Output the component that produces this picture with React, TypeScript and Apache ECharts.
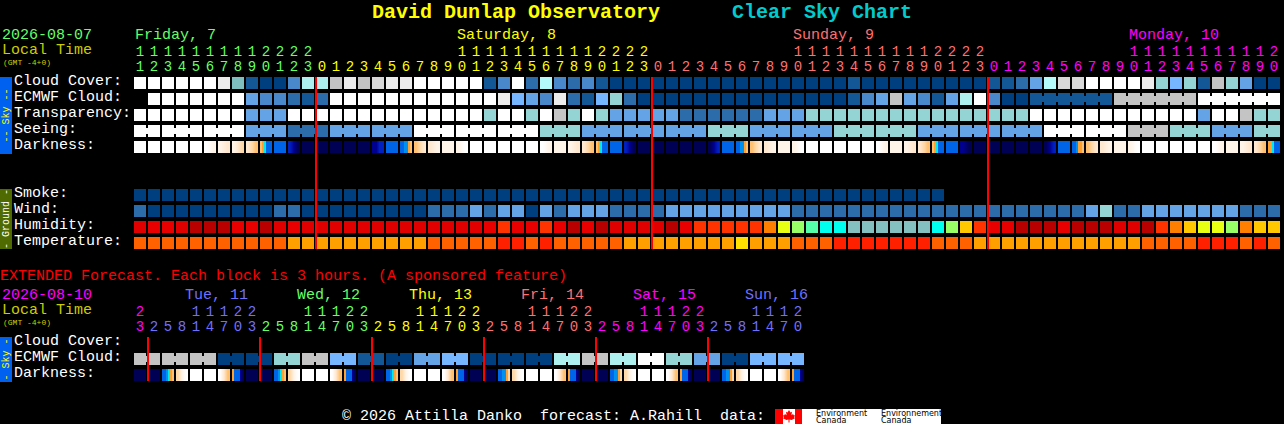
import React, { useEffect, useRef } from "react";
import * as echarts from "echarts";

const MONO = '"Liberation Mono"';

const cloudPalette = ["#003f7f", "#135796", "#2c6cab", "#4a88cc", "#63a3e6", "#76b5ff", "#94d4d4", "#aef0f0", "#c4c4c4", "#d8d8d8", "#ececec", "#ffffff", "#80bfbf", "#b4fafa"];
const humidityPalette = ["#b80000", "#e00000", "#e80000", "#ff3300", "#ff8000", "#ffc800", "#e8ff14", "#99ff66", "#55ffaa", "#00ffee", "#85c0c0"];
const temperaturePalette = ["#ff2000", "#ff6000", "#ffa000", "#ffe000"];
const darknessPalette = ["#000055", "#000090", "#0020c0", "#0064e8", "#0090f0", "#00e8f0", "#ffa030", "#ffc070", "#ffd8a8", "#ffe8d0", "#fff4e8", "#ffffff"];

const hours = [11, 12, 13, 14, 15, 16, 17, 18, 19, 20, 21, 22, 23,
  0, 1, 2, 3, 4, 5, 6, 7, 8, 9, 10, 11, 12, 13, 14, 15, 16, 17, 18, 19, 20, 21, 22, 23,
  0, 1, 2, 3, 4, 5, 6, 7, 8, 9, 10, 11, 12, 13, 14, 15, 16, 17, 18, 19, 20, 21, 22, 23,
  0, 1, 2, 3, 4, 5, 6, 7, 8, 9, 10, 11, 12, 13, 14, 15, 16, 17, 18, 19, 20];
const extHours = [23, 2, 5, 8, 11, 14, 17, 20, 23, 2, 5, 8, 11, 14, 17, 20, 23, 2, 5, 8, 11, 14, 17, 20, 23,
  2, 5, 8, 11, 14, 17, 20, 23, 2, 5, 8, 11, 14, 17, 20, 23, 2, 5, 8, 11, 14, 17, 20];

const dayColors = ["#66ff66", "#ffff00", "#ff7070", "#ff00ff"];
const extDayColors = ["#ff00ff", "#7070ff", "#66ff66", "#ffff00", "#ff7070", "#ff00ff", "#7070ff"];
const midnightCols = [13, 37, 61];
const extMidnightCols = [1, 9, 17, 25, 33, 41];

const rowLabels = ["Cloud Cover:", "ECMWF Cloud:", "Transparency:", "Seeing:", "Darkness:", "", "", "Smoke:", "Wind:", "Humidity:", "Temperature:"];
const extRowLabels = ["Cloud Cover:", "ECMWF Cloud:", "Darkness:"];

const cloudCover = [
  11, 11, 11, 11, 11, 11, 10, 12, 1, 0,
  0, 3, 7, 7, 8, 10, 8, 9, 10, 10,
  11, 11, 11, 11, 11, 1, 3, 11, 2, 13,
  3, 2, 3, 1, 0, 0, 0, 0, 0, 0,
  0, 0, 0, 0, 0, 0, 0, 0, 0, 0,
  0, 1, 0, 0, 0, 0, 0, 0, 0, 0,
  0, 1, 1, 2, 4, 13, 9, 9, 11, 11,
  11, 11, 10, 6, 5, 6, 1, 8, 6, 4,
  0, 0];
const ecmwfCloud = [
  null, 11, 11, 11, 11, 11, 11, 11, 4, 3,
  3, 2, 1, 2, 11, 11, 11, 11, 11, 11,
  11, 11, 11, 11, 11, 11, 10, 5, 4, 3,
  10, 2, 1, 5, 6, 2, 0, 0, 0, 0,
  0, 0, 0, 0, 0, 0, 0, 0, 0, 0,
  0, 1, 3, 4, 8, 4, 3, 1, 4, 7,
  11, 3, 0, 0, 1, 1, 1, 1, 1, 1,
  8, 8, 8, 8, 8, 8, 11, 11, 11, 11,
  11, 11];
const transparency = [
  11, 11, 11, 11, 11, 11, 11, 11, 4, 4,
  4, 11, 11, 11, 11, 11, 11, 11, 11, 11,
  11, 11, 11, 11, 11, 6, 11, 11, 6, 11,
  8, 6, 11, 6, 4, 4, 4, 4, 4, 2,
  2, 2, 2, 2, 2, 4, 4, 4, 6, 6,
  6, 6, 6, 6, 6, 6, 6, 6, 6, 6,
  6, 6, 6, 6, 11, 11, 11, 11, 11, 11,
  11, 11, 11, 11, 11, 11, 4, 11, 11, 8,
  6, 6];
const seeing = [
  11, 11, 11, 11, 11, 11, 11, 11, 4, 4,
  4, 2, 2, 2, 4, 4, 4, 4, 4, 4,
  11, 11, 11, 11, 11, 11, 11, 11, 11, 6,
  6, 6, 4, 4, 4, 4, 4, 4, 4, 4,
  4, 6, 6, 6, 4, 4, 4, 4, 4, 4,
  6, 6, 6, 6, 6, 6, 4, 4, 4, 4,
  4, 4, 4, 4, 4, 11, 11, 11, 11, 11,
  11, 8, 8, 8, 6, 6, 6, 4, 4, 4,
  6, 6];
const W = [11];
const N = [0];
const B = [3];
const darkness = [
  W, W, W, W, W, [11, 10], [10, 9], [10, 9, 8], [9, 8, 7], [7, 6, 5, 3, 3, 3],
  B, [2, 1, 0], N, N, N, N, N, [1, 1, 2, 2], B, [3, 3, 4, 4, 6, 7],
  [7, 8, 9], [9, 10], [10], [10, 11], W, W, W, W, W, [11, 10],
  [10], [10, 9], [9, 8, 7], [7, 6, 5, 3, 3, 3], B, [2, 1, 0], N, N, N, N,
  N, [0, 1, 2], B, [3, 3, 4, 4, 6, 7], [7, 8, 9], [9, 10], [10], [10, 11], W, W,
  W, W, W, [11, 10], [10], [10, 9], [9, 8, 7], [7, 6, 5, 3, 3, 3], B, [1, 0],
  N, N, N, N, N, [0, 1, 2], B, [3, 3, 4, 6, 6, 7], [7, 8, 9], [9, 10],
  [10], [10, 11], W, W, W, W, W, [11, 10], [10], [10, 9],
  [9, 8, 7], [6, 6, 5, 3, 3, 3]];
const smoke = [
  0, 0, 0, 0, 0, 0, 0, 0, 0, 0,
  0, 0, 0, 0, 0, 0, 0, 0, 0, 0,
  0, 0, 0, 0, 0, 0, 0, 0, 0, 0,
  0, 0, 0, 0, 0, 0, 0, 0, 0, 0,
  0, 0, 0, 0, 0, 0, 0, 0, 0, 0,
  0, 0, 0, 0, 0, 0, 0, 0];
const wind = [
  2, 0, 0, 0, 0, 0, 0, 0, 0, 0,
  2, 2, 0, 0, 0, 0, 0, 0, 0, 0,
  0, 2, 2, 2, 4, 2, 4, 4, 0, 4,
  2, 4, 4, 4, 2, 2, 2, 2, 4, 4,
  4, 4, 4, 4, 4, 4, 4, 2, 2, 2,
  2, 2, 2, 2, 2, 2, 2, 2, 2, 2,
  2, 2, 2, 2, 2, 2, 2, 2, 4, 6,
  2, 2, 4, 4, 4, 4, 4, 4, 4, 2,
  2, 2];
const humidity = [
  1, 2, 2, 1, 0, 0, 0, 2, 2, 0,
  1, 2, 1, 1, 1, 1, 1, 1, 1, 1,
  1, 1, 1, 1, 1, 2, 3, 2, 2, 3,
  2, 0, 2, 0, 1, 1, 1, 1, 0, 2,
  3, 3, 3, 3, 3, 4, 6, 7, 8, 9,
  9, 10, 10, 10, 10, 10, 10, 9, 7, 5,
  3, 2, 2, 0, 0, 0, 2, 0, 0, 0,
  1, 1, 0, 3, 4, 5, 6, 6, 7, 4,
  5, 5];
const temperature = [
  1, 1, 1, 1, 1, 1, 1, 1, 1, 1,
  1, 2, 2, 2, 2, 2, 2, 2, 2, 2,
  2, 1, 1, 1, 1, 1, 0, 0, 1, 0,
  1, 1, 1, 1, 1, 2, 2, 2, 2, 2,
  2, 2, 2, 3, 2, 2, 2, 1, 1, 1,
  0, 0, 0, 0, 0, 0, 0, 1, 1, 1,
  2, 2, 2, 2, 2, 2, 2, 2, 2, 2,
  2, 2, 1, 1, 1, 1, 0, 0, 0, 1,
  0, 1];

const extEcmwf = [
  8, 8, 8, 8, 8, 8, 0, 0, 0, 0, 6, 6, 8, 8, 5, 5, 1, 1, 0, 0, 4, 4, 5, 5,
  0, 0, 0, 0, 0, 0, 7, 7, 8, 8, 7, 7, 11, 11, 6, 6, 4, 4, 0, 0, 5, 5, 5, 5];
const D1 = [3, 3, 4, 5, 6, 7];
const D2 = [8, 10, 11];
const E1 = [11, 9, 7];
const E2 = [6, 3, 3, 3, 1, 0];
const D3 = [3, 3, 4, 4, 6, 8];
const extDarkness = [
  N, N, D1, D2, W, W, E1, E2,
  N, N, D1, D2, W, W, E1, E2,
  N, N, D1, D2, W, W, E1, E2,
  N, N, D3, D2, W, W, E1, E2,
  N, N, D3, D2, W, W, E1, E2,
  N, N, D3, D2, W, W, E1, E2];

// run lengths of the forecast blocks that are joined together
const seeingRuns = [2, 3, 3, 3, 3, 3, 3, 3, 3, 3, 3, 3, 3, 3, 3, 3, 3, 3, 3, 3, 3, 3, 3, 3, 3, 3, 3, 2];
const ecmwfRuns = [64, 6, 6, 6];
const extEcmwfRuns = [2, 2, 2, 2, 2, 2, 2, 2, 2, 2, 2, 2, 2, 2, 2, 2, 2, 2, 2, 2, 2, 2, 2, 2];

const dayNames = ["Friday, 7", "Saturday, 8", "Sunday, 9", "Monday, 10"];
const dayStartCols = [0, 23, 47, 71];
const extDayNames = ["Tue, 11", "Wed, 12", "Thu, 13", "Fri, 14", "Sat, 15", "Sun, 16"];

function joinedCols(runs: number[], skipFirst = false): Set<number> {
  const s = new Set<number>();
  let c = 0;
  runs.forEach((r, i) => {
    if (!(skipFirst && i === 0)) for (let k = 0; k < r - 1; k++) s.add(c + k);
    c += r;
  });
  return s;
}

const levelFill = (palette: string[]) => (v: any) => (v === null ? null : palette[v]);
const hardLevel = (l: number) => l >= 3 && l <= 6;
const darkFill = (v: number[]) => {
  if (v.length === 1) return darknessPalette[v[0]];
  const stops: { offset: number; color: string }[] = [];
  const n = v.length;
  v.forEach((l, i) => {
    const next = v[i + 1];
    if (i > 0 && v[i - 1] !== l && (hardLevel(l) || hardLevel(v[i - 1]))) {
      stops.push({ offset: i / n, color: darknessPalette[l] });
    }
    if (next !== undefined && next !== l && (hardLevel(l) || hardLevel(next))) {
      stops.push({ offset: (i + 1) / n, color: darknessPalette[l] });
    } else {
      stops.push({ offset: (i + 0.5) / n, color: darknessPalette[l] });
    }
  });
  return new echarts.graphic.LinearGradient(0, 0, 1, 0, stops);
};

type Row = { row: number; values: any[]; fill: (v: any) => any; joined?: Set<number> };

function cellSeries(rows: Row[], xAxisIndex: number, yAxisIndex: number) {
  const data: number[][] = [];
  rows.forEach((r, ri) => r.values.forEach((v, c) => {
    if (v !== null) data.push([c, r.row, ri]);
  }));
  return {
    type: "custom",
    xAxisIndex,
    yAxisIndex,
    silent: true,
    clip: false,
    data,
    encode: { x: 0, y: 1 },
    renderItem: (_: any, api: any) => {
      const c = api.value(0);
      const y = api.value(1);
      const r = rows[api.value(2)];
      const [cx, cy] = api.coord([c, y]);
      const fill = r.fill(r.values[c]);
      const children: any[] = [{ type: "rect", shape: { x: cx - 6, y: cy - 6, width: 12, height: 12 }, style: { fill } }];
      if (r.joined && r.joined.has(c)) {
        children.push({ type: "rect", shape: { x: cx + 6, y: cy - 3, width: 2, height: 6 }, style: { fill } });
      }
      return { type: "group", children };
    },
  };
}

function redLines(cols: number[], lastRow: number, xAxisIndex: number, yAxisIndex: number) {
  return {
    type: "custom",
    xAxisIndex,
    yAxisIndex,
    silent: true,
    clip: false,
    z: 50,
    data: cols.map((c) => [c, 0]),
    encode: { x: 0, y: 1 },
    renderItem: (_: any, api: any) => {
      const c = api.value(0);
      const [cx, top] = api.coord([c, 0]);
      const [, bottom] = api.coord([c, lastRow]);
      return { type: "rect", z2: 100, shape: { x: cx - 7, y: top - 6, width: 2, height: bottom - top + 12 }, style: { fill: "#ff0000" } };
    },
  };
}

function colColor(idx: number, starts: number[], colors: string[]) {
  let k = 0;
  starts.forEach((s, i) => { if (idx >= s) k = i; });
  return colors[k];
}

function hourAxis(gridIndex: number, list: number[], offset: number, tens: boolean, starts: number[], colors: string[]) {
  return {
    type: "category",
    gridIndex,
    position: "top",
    offset,
    data: list.map((_, i) => String(i)),
    axisLine: { show: false },
    axisTick: { show: false },
    splitLine: { show: false },
    axisLabel: {
      show: true,
      interval: 0,
      margin: 1,
      hideOverlap: false,
      fontFamily: MONO,
      fontSize: 14,
      lineHeight: 14,
      formatter: (_: string, i: number) => {
        const h = list[i];
        return tens ? (h >= 10 ? String(Math.floor(h / 10)) : "") : String(h % 10);
      },
      color: (_: any, i: number) => colColor(i, starts, colors),
    },
  };
}

function rowAxis(gridIndex: number, labels: string[]) {
  return {
    type: "category",
    gridIndex,
    inverse: true,
    data: labels.map((l, i) => ({ value: String(i) + l })),
    axisLine: { show: false },
    axisTick: { show: false },
    splitLine: { show: false },
    axisLabel: {
      show: true,
      interval: 0,
      align: "left",
      verticalAlign: "bottom",
      lineHeight: 4,
      margin: 119,
      fontFamily: MONO,
      fontSize: 15,
      color: "#ffffff",
      formatter: (_: string, i: number) => labels[i],
    },
  };
}

function txt(text: string, x: number, y: number, fill: string, size = 15, extra: any = {}) {
  return {
    type: "text",
    x,
    y,
    silent: true,
    ...extra,
    style: { text, fill, font: `${extra.weight || "normal"} ${size}px ${extra.family || MONO}`, align: extra.align || "left", verticalAlign: "middle" },
  };
}

function sideBox(y: number, h: number, color: string, label: string, fill: string) {
  return [
    { type: "rect", silent: true, shape: { x: 0, y, width: 12, height: h }, style: { fill: color } },
    txt(label, 6, y + h / 2, fill, 10, { rotation: Math.PI / 2, align: "center" }),
  ];
}

const mapleLeaf = [[0, -6], [1.5, -3.5], [3, -4.2], [2.4, -0.8], [4, -2], [5, -0.5], [6, -1], [5.2, 1.5], [6, 2.2], [2.5, 4], [0.5, 3.6], [0.5, 6.5], [-0.5, 6.5], [-0.5, 3.6], [-2.5, 4], [-6, 2.2], [-5.2, 1.5], [-6, -1], [-5, -0.5], [-4, -2], [-2.4, -0.8], [-3, -4.2], [-1.5, -3.5]];

function buildOption() {
  const dayX = dayStartCols.map((c) => 135 + 14 * c);
  const dayTexts = dayNames.map((d, i) => txt(d, dayX[i], 35, dayColors[i]));
  const extDayTexts = extDayNames.map((d, i) => txt(d, 185 + 112 * i, 295, extDayColors[i + 1]));
  const starts = [0, 13, 37, 61];
  const extStarts = [0, 1, 9, 17, 25, 33, 41];
  const cp = levelFill(cloudPalette);

  return {
    animation: false,
    backgroundColor: "#000000",
    grid: [
      { left: 133, top: 75, width: 1148, height: 176 },
      { left: 133, top: 335, width: 672, height: 48 },
    ],
    xAxis: [
      hourAxis(0, hours, 0, false, starts, dayColors),
      hourAxis(0, hours, 15, true, starts, dayColors),
      hourAxis(1, extHours, 0, false, extStarts, extDayColors),
      hourAxis(1, extHours, 15, true, extStarts, extDayColors),
    ],
    yAxis: [rowAxis(0, rowLabels), rowAxis(1, extRowLabels)],
    series: [
      cellSeries([
        { row: 0, values: cloudCover, fill: cp },
        { row: 1, values: ecmwfCloud, fill: cp, joined: joinedCols(ecmwfRuns, true) },
        { row: 2, values: transparency, fill: cp },
        { row: 3, values: seeing, fill: cp, joined: joinedCols(seeingRuns) },
        { row: 4, values: darkness, fill: darkFill },
        { row: 7, values: smoke, fill: cp },
        { row: 8, values: wind, fill: cp },
        { row: 9, values: humidity, fill: levelFill(humidityPalette) },
        { row: 10, values: temperature, fill: levelFill(temperaturePalette) },
      ], 0, 0),
      cellSeries([
        { row: 1, values: extEcmwf, fill: cp, joined: joinedCols(extEcmwfRuns) },
        { row: 2, values: extDarkness, fill: darkFill },
      ], 2, 1),
      redLines(midnightCols, 10, 0, 0),
      redLines(extMidnightCols, 2, 2, 1),
    ],
    graphic: [
      txt("David Dunlap Observatory", 372, 12, "#ffff00", 20, { weight: "bold" }),
      txt("Clear Sky Chart", 732, 12, "#00cccc", 20, { weight: "bold" }),
      txt("2026-08-07", 2, 35, "#66ff66"),
      txt("Local Time", 2, 50, "#cccc00"),
      txt("(GMT -4+0)", 3, 62, "#cccc00", 8),
      ...dayTexts,
      ...sideBox(77, 77, "#0060f0", "-- Sky --", "#ffff00"),
      ...sideBox(189, 60, "#4f6a00", "- Ground -", "#ffffff"),
      txt("EXTENDED Forecast. Each block is 3 hours. (A sponsored feature)", 0, 276, "#ff0000"),
      txt("2026-08-10", 2, 295, "#ff00ff"),
      txt("Local Time", 2, 310, "#cccc00"),
      txt("(GMT -4+0)", 3, 322, "#cccc00", 8),
      ...extDayTexts,
      ...sideBox(337, 45, "#0060f0", "- Sky -", "#ffff00"),
      txt("© 2026 Attilla Danko  forecast: A.Rahill  data:", 342, 416, "#ffffff"),
      { type: "rect", silent: true, shape: { x: 775, y: 409, width: 166, height: 15 }, style: { fill: "#ffffff" } },
      { type: "rect", silent: true, shape: { x: 775, y: 409, width: 8, height: 15 }, style: { fill: "#ff0000" } },
      { type: "rect", silent: true, shape: { x: 795, y: 409, width: 7, height: 15 }, style: { fill: "#ff0000" } },
      { type: "polygon", silent: true, x: 789, y: 416, shape: { points: mapleLeaf }, style: { fill: "#ff0000" } },
      txt("Environment", 816, 413, "#000000", 8, { family: '"DejaVu Sans"' }),
      txt("Canada", 816, 420, "#000000", 8, { family: '"DejaVu Sans"' }),
      txt("Environnement", 881, 413, "#000000", 8, { family: '"DejaVu Sans"' }),
      txt("Canada", 881, 420, "#000000", 8, { family: '"DejaVu Sans"' }),
    ],
  };
}

export default function App() {
  const ref = useRef<HTMLDivElement>(null);
  useEffect(() => {
    document.body.style.margin = "0";
    document.body.style.background = "#000";
    document.body.style.overflow = "hidden";
    const chart = echarts.init(ref.current!, undefined, { renderer: "svg" });
    chart.setOption(buildOption() as any);
    return () => chart.dispose();
  }, []);
  return <div ref={ref} style={{ width: 1284, height: 424, display: "block" }} />;
}
